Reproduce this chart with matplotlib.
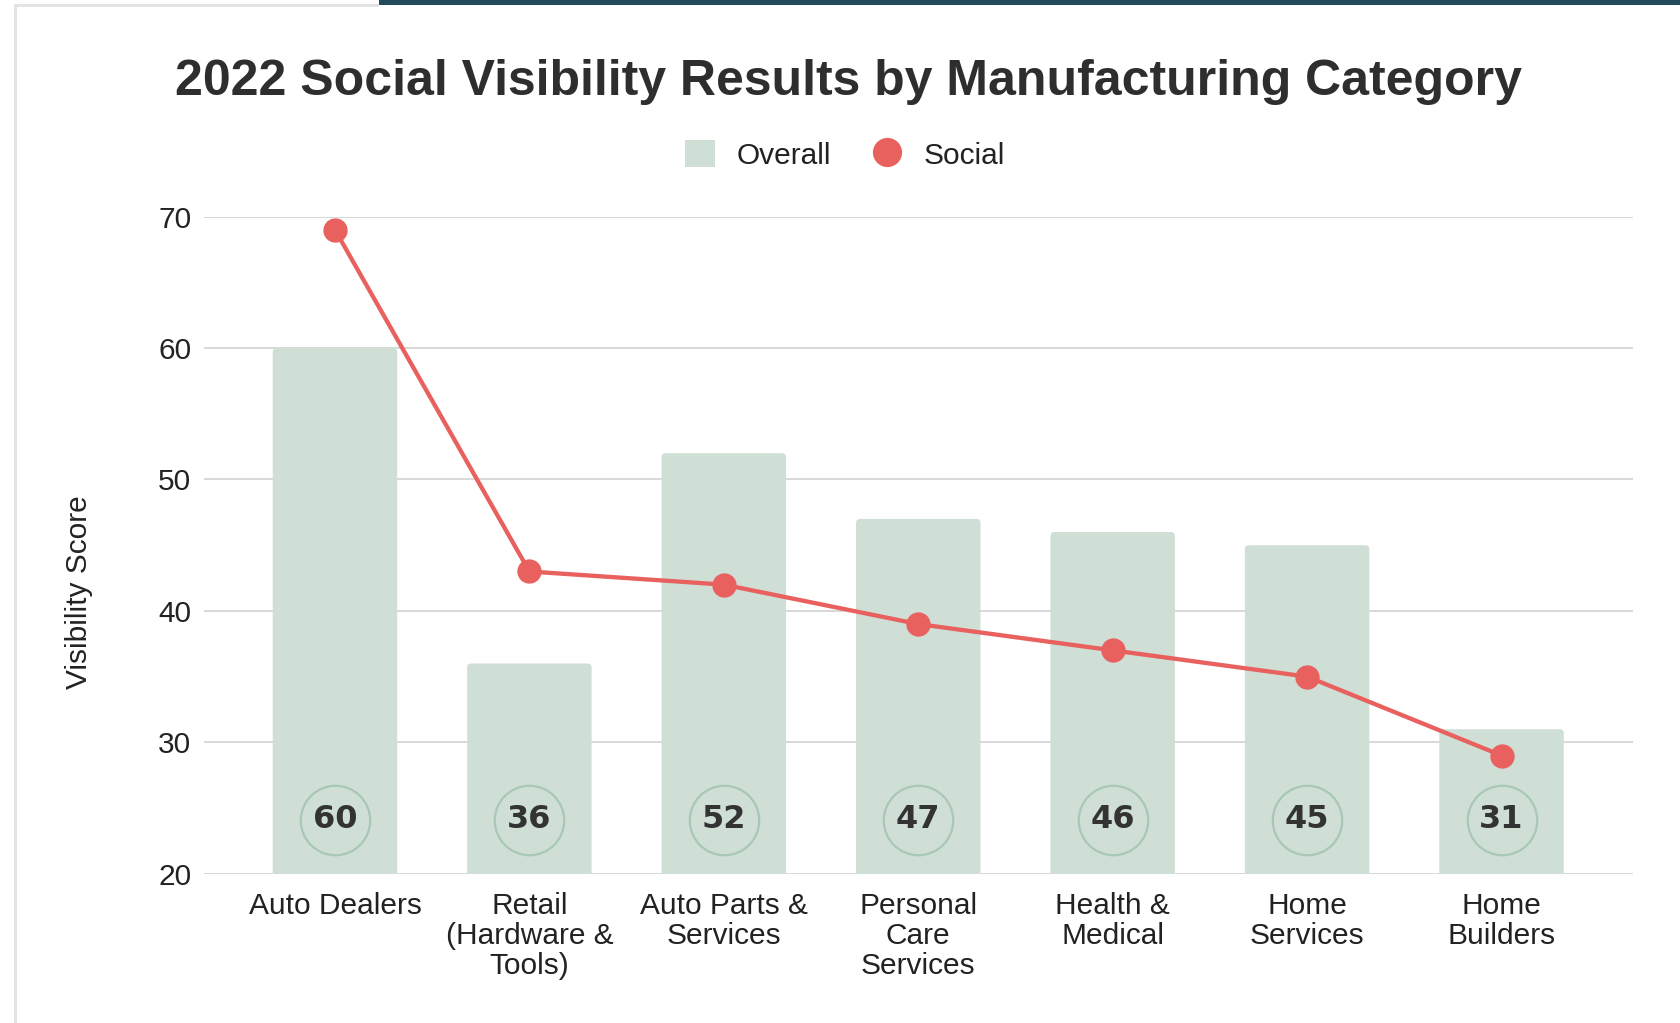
import matplotlib
matplotlib.use("Agg")
import matplotlib.pyplot as plt
from matplotlib.patches import FancyBboxPatch, Patch, Rectangle
from matplotlib.lines import Line2D

# ---- data ----
categories = ["Auto Dealers", "Retail\n(Hardware &\nTools)", "Auto Parts &\nServices",
              "Personal\nCare\nServices", "Health &\nMedical", "Home\nServices", "Home\nBuilders"]
overall = [60, 36, 52, 47, 46, 45, 31]
social = [69, 43, 42, 39, 37, 35, 29]
yticks = [20, 30, 40, 50, 60, 70]

BAR = "#d0dfd6"
RED = "#e8615f"
GRID = "#d2d2d2"
TXT = "#222222"

W, H = 1681, 1023
fig = plt.figure(figsize=(W / 100, H / 100), dpi=100)
fig.patch.set_facecolor("white")

ax = fig.add_axes([203.7 / W, 1 - 873.8 / H, (1632.8 - 203.7) / W, (873.8 - 216.6) / H])
ax.set_xlim(-0.675, 6.675)
ax.set_ylim(20, 70)
x = list(range(len(categories)))

bars = ax.bar(x, overall, width=0.64, color=BAR, zorder=2)
# rounded top corners
xpx = ax.get_position().width * W / 7.35
ypx = ax.get_position().height * H / 50
for b in bars:
    b.set_visible(False)
    p = FancyBboxPatch((b.get_x(), b.get_y()), b.get_width(), b.get_height(),
                       boxstyle="round,pad=0,rounding_size=%f" % (4 / xpx),
                       mutation_aspect=xpx / ypx, facecolor=BAR, edgecolor="none",
                       zorder=2)
    ax.add_patch(p)

# value circles
ax.scatter(x, [24.1] * len(x), s=50 ** 2, facecolor=BAR, edgecolor="#a8c7b5",
           linewidth=1.6, zorder=3)
for xi, v in zip(x, overall):
    ax.text(xi, 24.1, str(v), ha="center", va="center", fontsize=23,
            fontweight="bold", color="#333333", family="DejaVu Sans", zorder=4)

ax.plot(x, social, color=RED, lw=3.1, marker="o", markersize=16.5, zorder=5,
        solid_capstyle="round")

ax.set_yticks(yticks)
ax.grid(axis="y", color=GRID, lw=1.2, zorder=0)
ax.set_axisbelow(True)
for s in ax.spines.values():
    s.set_visible(False)
ax.tick_params(axis="both", length=0, labelsize=21.5, labelcolor=TXT)
ax.tick_params(axis="y", pad=9)
ax.tick_params(axis="x", pad=13)
ax.set_xticks(x)
ax.set_xticklabels(categories, linespacing=1.09, family="Liberation Sans")
for t in ax.get_yticklabels():
    t.set_family("Liberation Sans")

ax.set_ylabel("Visibility Score", fontsize=21.5, color=TXT, family="Liberation Sans",
              va="center")
ax.yaxis.set_label_coords(-0.0875, 0.429)

fig.text(848 / W, 1 - 95 / H, "2022 Social Visibility Results by Manufacturing Category",
         ha="center", va="baseline", fontsize=36, fontweight="bold", color="#2e2e2e",
         family="Liberation Sans")

handles = [Patch(facecolor=BAR, edgecolor="none", label="Overall"),
           Line2D([], [], color=RED, marker="o", linestyle="none", markersize=20,
                  label="Social")]
leg = fig.legend(handles=handles, loc="center", bbox_to_anchor=(845 / W, 1 - 155 / H),
                 ncol=2, frameon=False, handlelength=1.0,
                 handleheight=1.0, handletextpad=0.7, columnspacing=1.4,
                 prop={"family": "Liberation Sans", "size": 21.5})
for t in leg.get_texts():
    t.set_color(TXT)

# screenshot frame decorations
fig.patches.append(Rectangle((14 / W, 0), 3 / W, 1 - 5 / H, transform=fig.transFigure,
                             facecolor="#e3e3e3", edgecolor="none", figure=fig))
fig.patches.append(Rectangle((14 / W, 1 - 7 / H), (379 - 14) / W, 3 / H,
                             transform=fig.transFigure, facecolor="#e3e3e3",
                             edgecolor="none", figure=fig))
fig.patches.append(Rectangle((379 / W, 1 - 4.5 / H), 1 - 379 / W, 4.5 / H,
                             transform=fig.transFigure, facecolor="#23495c",
                             edgecolor="none", figure=fig))

fig.savefig("out.png", dpi=100)
